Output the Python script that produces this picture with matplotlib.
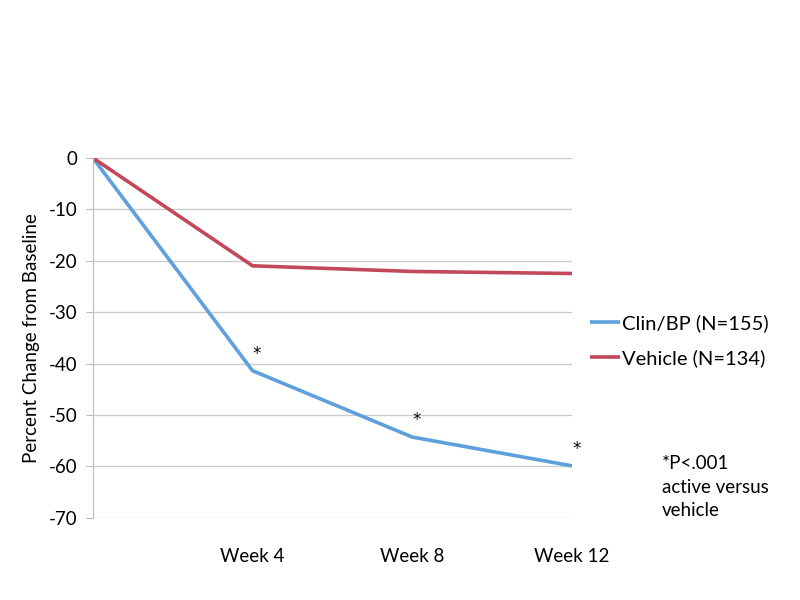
import matplotlib
matplotlib.use("Agg")
import matplotlib.pyplot as plt

plt.rcParams['font.family'] = ['Lato', 'DejaVu Sans']

timepoints = ["", "Week 4", "Week 8", "Week 12"]
clin_bp = [0, -41.4, -54.3, -59.9]
vehicle = [0, -21.0, -22.1, -22.5]
yticks = [0, -10, -20, -30, -40, -50, -60, -70]

fig = plt.figure(figsize=(8, 6), dpi=100)
ax = fig.add_axes([0.116, 0.137, 0.599, 0.6])

x = list(range(len(timepoints)))
ax.plot(x, clin_bp, color="#5EA0DC", lw=2.6, label="Clin/BP (N=155)", solid_capstyle="butt")
ax.plot(x, vehicle, color="#C2485B", lw=2.6, label="Vehicle (N=134)", solid_capstyle="butt")

# significance marks
for i in range(1, 4):
    ax.annotate("*", (x[i], clin_bp[i]), xytext=(3, 12), textcoords="offset points",
                ha="center", va="center", fontsize=12, family="DejaVu Sans",
                annotation_clip=False)

ax.set_xlim(0, 3)
ax.set_ylim(-70, 0)
ax.set_yticks(yticks)
ax.set_yticklabels([str(v) for v in yticks], fontsize=13.5)
ax.set_xticks(x[1:])
ax.set_xticklabels(timepoints[1:], fontsize=13.5)
ax.tick_params(axis="x", length=0, pad=22)
ax.tick_params(axis="y", length=5, color="#BBBBBB", pad=6)
ax.grid(axis="y", color="#C8CCCC", lw=1)
ax.set_axisbelow(True)
for s in ["top", "right", "bottom"]:
    ax.spines[s].set_visible(False)
ax.spines["left"].set_color("#BBBBBB")
ax.set_ylabel("Percent Change from Baseline", fontsize=13.5, labelpad=6)

ax.legend(loc="center left", bbox_to_anchor=(1.0, 0.491), frameon=False, fontsize=14.5,
          handlelength=1.5, handletextpad=0.1, labelspacing=0.85)

fig.text(0.827, 0.188, "*P<.001\nactive versus\nvehicle", fontsize=13.5, va="center",
         ha="left", linespacing=1.45)

fig.savefig("out.png")
